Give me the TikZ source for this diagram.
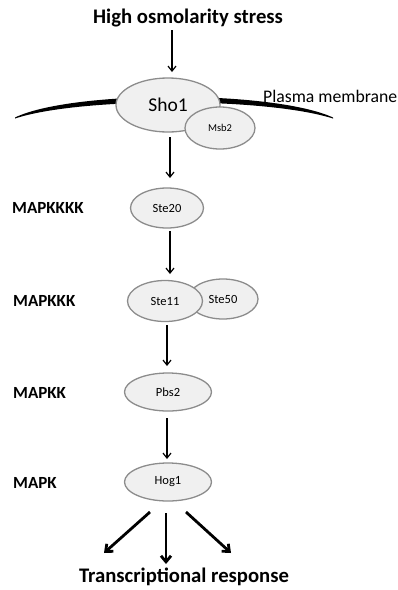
\documentclass[tikz,border=0pt]{standalone}
\usepackage{fontspec}
\setmainfont{Carlito}
\usetikzlibrary{arrows.meta,shapes.geometric}
\begin{document}
\begin{tikzpicture}[x=1pt,y=-1pt,
  prot/.style={ellipse,draw=black!45,line width=1.3pt,fill=black!6,inner sep=0pt,font=\fontsize{12.5}{14}\selectfont},
  lvl/.style={anchor=west,inner sep=0pt,font=\bfseries\fontsize{17}{20}\selectfont},
  arr/.style={-{Straight Barb[length=5pt,width=8pt]},line width=1.2pt},
  bigarr/.style={-{Straight Barb[length=6pt,width=10pt]},line width=2.8pt}]
\useasboundingbox (0,0) rectangle (398,590);
% membrane
\fill (15,117.5) .. controls (72,90) and (273,90) .. (333,117.5)
  -- (333,118.5) .. controls (265,97) and (80,97) .. (15,118.5) -- cycle;
\node (title) at (188,18) {\bfseries\fontsize{20.7}{24}\selectfont High osmolarity stress};
\node[prot,minimum width=104pt,minimum height=54pt,font=\fontsize{19.5}{22}\selectfont] (sho1) at (168,105) {Sho1};
\node[prot,minimum width=70pt,minimum height=42pt,font=\fontsize{10.5}{12}\selectfont] (msb2) at (220,128) {Msb2};
\node[anchor=west,inner sep=0pt] (pm) at (263,96) {\fontsize{17.7}{20}\selectfont Plasma membrane};
\node[prot,minimum width=73pt,minimum height=40pt] (ste20) at (167,208) {Ste20};
\node[prot,minimum width=70pt,minimum height=40pt] (ste50) at (223,299) {Ste50};
\node[prot,minimum width=75pt,minimum height=41pt] (ste11) at (165,301) {Ste11};
\node[prot,minimum width=87pt,minimum height=38pt] (pbs2) at (168,392) {Pbs2};
\node[prot,minimum width=87pt,minimum height=38pt] (hog1) at (168,482) {Hog1};
\node[lvl] (l1) at (12,208) {MAPKKKK};
\node[lvl] (l2) at (13,301) {MAPKKK};
\node[lvl] (l3) at (13,393) {MAPKK};
\node[lvl] (l4) at (13,483) {MAPK};
\node (tr) at (184,577) {\bfseries\fontsize{20.7}{24}\selectfont Transcriptional response};
\coordinate (a0) at (172,30);
\coordinate (a1) at (172,72);
\draw[arr] (a0) -- (a1);
\draw[arr] (170,137) -- (170,178);
\draw[arr] (170,231) -- (170,274);
\draw[arr] (167,325) -- (167,366);
\draw[arr] (167,418) -- (167,459);
\coordinate (h1) at (150,512);
\coordinate (h2) at (166,513);
\coordinate (h3) at (186,512);
\coordinate (t1) at (104,553);
\coordinate (t2) at (166,564);
\coordinate (t3) at (231,553);
\draw[bigarr] (h1) -- (t1);
\draw[bigarr] (h2) -- (t2);
\draw[bigarr] (h3) -- (t3);
\end{tikzpicture}
\end{document}
